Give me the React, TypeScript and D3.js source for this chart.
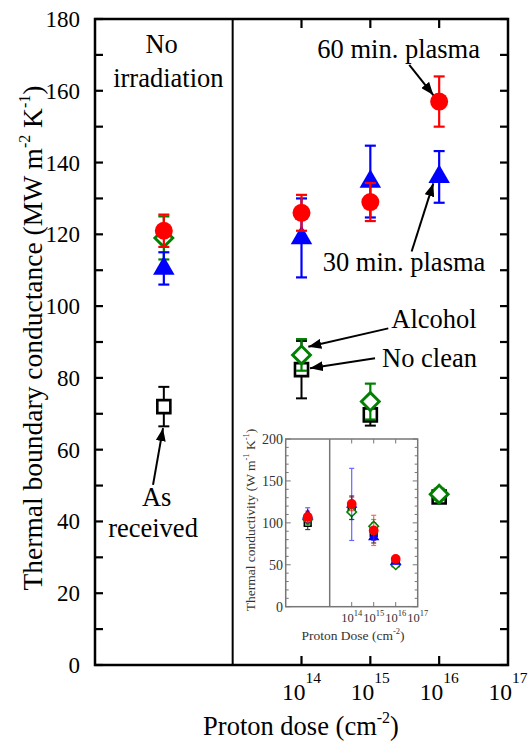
import * as d3 from 'd3';
import { useEffect, useRef } from 'react';

const W = 530;
const H = 744;
const FONT = '"Liberation Serif", "Times New Roman", serif';

// 1e12 stands for the un-irradiated group (left of the divider at 1e13)
const doses = [1e12, 1e14, 1e15, 1e16];
const doseTicks = [1e14, 1e15, 1e16, 1e17];
const doseExp = ['14', '15', '16', '17'];
const yTickLabels = [0, 20, 40, 60, 80, 100, 120, 140, 160, 180];
const insetYTicks = [0, 50, 100, 150, 200];

// main panel: thermal boundary conductance (MW m^-2 K^-1)
const noClean = [72, 82.3, 69.7, 46.8];
const noCleanErr = [5.5, 8, 3, 1.5];
const alcohol = [119, 86.4, 73.4, 47.6];
const alcoholErr = [6, 4.4, 5, 1.5];
const plasma30 = [110.5, 119, 134.7, 136];
const plasma30Err = [4.5, 11, 10, 7.2];
const plasma60 = [121, 126, 129, 157];
const plasma60Err = [4.5, 5, 5.3, 7];

// inset: thermal conductivity (W m^-1 K^-1)
const kNoClean = [100, 118, 88, 52];
const kNoCleanErr = [8, 14, 12, 3];
const kAlcohol = [104, 113, 96, 50];
const kAlcoholErr = [6, 9, 8, 3];
const k30 = [109, 122, 83, 54];
const k30Err = [9, 43, 4, 3];
const k60 = [107, 122.5, 91, 57];
const k60Err = [7, 8, 18, 3];

// annotations in data units: [log10 dose, value]
const labels = [
  { text: 'No', at: [11.968, 170.4] },
  { text: 'irradiation', at: [12.066, 161.0] },
  { text: '60 min. plasma', at: [15.411, 169.0] },
  { text: '30 min. plasma', at: [15.489, 109.9] },
  { text: 'Alcohol', at: [15.925, 93.8] },
  { text: 'No clean', at: [15.86, 83.1] },
  { text: 'As', at: [11.896, 44.3] },
  { text: 'received', at: [11.843, 35.7] },
];
const arrows = [
  { from: [15.566, 167.2], to: [15.915, 158.8] },
  { from: [15.6, 115.2], to: [15.915, 134.2] },
  { from: [15.261, 93.8], to: [14.099, 88.7] },
  { from: [15.068, 85.5], to: [14.123, 82.7] },
  { from: [11.843, 50.2], to: [11.988, 66.0] },
];

type Shape = 'square' | 'diamond' | 'triangle' | 'circle';

export default function App() {
  const svgRef = useRef<SVGSVGElement>(null);

  useEffect(() => {
    const svg = d3.select(svgRef.current);
    svg.selectAll('*').remove();

    const x = d3.scaleLog().domain([1e11, 1e17]).range([95, 508]);
    const y = d3.scaleLinear().domain([0, 180]).range([665, 19]);
    const xi = d3.scaleLog().domain([1e11, 1e17]).range([285.7, 417.7]);
    const yi = d3.scaleLinear().domain([0, 200]).range([606.7, 439]);

    svg.append('defs').append('marker')
      .attr('id', 'arrow')
      .attr('viewBox', '0 0 13 10')
      .attr('refX', 13).attr('refY', 5)
      .attr('markerWidth', 13).attr('markerHeight', 10)
      .attr('markerUnits', 'userSpaceOnUse')
      .attr('orient', 'auto')
      .append('path').attr('d', 'M0,0L13,5L0,10z').attr('fill', '#000');

    function shapePath(shape: Shape, area: number) {
      if (shape === 'circle') return d3.symbol(d3.symbolCircle, area)();
      if (shape === 'triangle') return d3.symbol(d3.symbolTriangle, area)();
      return d3.symbol(d3.symbolSquare, area)();
    }

    function drawSeries(g, xs, ys, vals, errs, color, shape: Shape, area, sw, capW, barOpacity) {
      vals.forEach((v, i) => {
        const cx = xs(doses[i]);
        const eg = g.append('g').attr('stroke', color).attr('stroke-width', sw).attr('opacity', barOpacity);
        eg.append('line').attr('x1', cx).attr('x2', cx).attr('y1', ys(v - errs[i])).attr('y2', ys(v + errs[i]));
        [v - errs[i], v + errs[i]].forEach((e) => {
          eg.append('line').attr('x1', cx - capW / 2).attr('x2', cx + capW / 2).attr('y1', ys(e)).attr('y2', ys(e));
        });
      });
      vals.forEach((v, i) => {
        const p = g.append('path')
          .attr('d', shapePath(shape, area))
          .attr('transform', `translate(${xs(doses[i])},${ys(v)})${shape === 'diamond' ? ' rotate(45)' : ''}`);
        if (shape === 'circle' || shape === 'triangle') p.attr('fill', color);
        else p.attr('fill', 'white').attr('stroke', color).attr('stroke-width', sw * 1.3);
      });
    }

    // ---------- main panel ----------
    const frame = svg.append('g').attr('stroke', '#000').attr('stroke-width', 2.5);
    frame.append('rect').attr('x', 95).attr('y', 19).attr('width', 413).attr('height', 646).attr('fill', 'none');
    frame.append('line').attr('x1', x(1e13)).attr('x2', x(1e13)).attr('y1', 19).attr('y2', 665).attr('stroke-width', 2);

    d3.range(0, 181, 10).forEach((t) => {
      frame.append('line').attr('x1', 95).attr('x2', 103).attr('y1', y(t)).attr('y2', y(t)).attr('stroke-width', 2.2);
      frame.append('line').attr('x1', 500).attr('x2', 508).attr('y1', y(t)).attr('y2', y(t)).attr('stroke-width', 2.2);
    });
    doseTicks.slice(0, 3).forEach((t) => {
      frame.append('line').attr('x1', x(t)).attr('x2', x(t)).attr('y1', 665).attr('y2', 656).attr('stroke-width', 2.2);
      frame.append('line').attr('x1', x(t)).attr('x2', x(t)).attr('y1', 19).attr('y2', 28).attr('stroke-width', 2.2);
    });

    const txt = svg.append('g').attr('font-family', FONT).attr('fill', '#000');
    yTickLabels.forEach((t) => {
      txt.append('text').attr('x', 80).attr('y', y(t)).attr('dy', '0.35em')
        .attr('text-anchor', 'end').attr('font-size', 23).text(t);
    });
    doseTicks.forEach((t, i) => {
      const tx = txt.append('text').attr('x', x(t)).attr('y', 700).attr('text-anchor', 'middle').attr('font-size', 23.5);
      tx.append('tspan').text('10');
      tx.append('tspan').attr('font-size', 15.5).attr('dy', -17).text(doseExp[i]);
    });

    const xl = txt.append('text').attr('x', 301).attr('y', 735).attr('text-anchor', 'middle').attr('font-size', 26.5);
    xl.append('tspan').text('Proton dose (cm');
    xl.append('tspan').attr('font-size', 16).attr('dy', -12).text('-2');
    xl.append('tspan').attr('dy', 12).text(')');

    const yl = txt.append('text').attr('transform', 'translate(42,338) rotate(-90)')
      .attr('text-anchor', 'middle').attr('font-size', 27.5);
    yl.append('tspan').text('Thermal boundary conductance (MW m');
    yl.append('tspan').attr('font-size', 16).attr('dy', -12).text('-2');
    yl.append('tspan').attr('dy', 12).text(' K');
    yl.append('tspan').attr('font-size', 16).attr('dy', -12).text('-1');
    yl.append('tspan').attr('dy', 12).text(')');

    const data = svg.append('g');
    drawSeries(data, x, y, noClean, noCleanErr, '#000', 'square', 170, 2, 11, 1);
    drawSeries(data, x, y, alcohol, alcoholErr, '#008000', 'diamond', 160, 2.2, 11, 1);
    drawSeries(data, x, y, plasma30, plasma30Err, '#0000ff', 'triangle', 200, 2.2, 11, 1);
    drawSeries(data, x, y, plasma60, plasma60Err, '#ff0000', 'circle', 254, 2.2, 11, 1);

    labels.forEach((l) => {
      txt.append('text').attr('x', x(10 ** l.at[0])).attr('y', y(l.at[1]))
        .attr('text-anchor', 'middle').attr('font-size', 26.5).text(l.text);
    });
    arrows.forEach((a) => {
      svg.append('line')
        .attr('x1', x(10 ** a.from[0])).attr('y1', y(a.from[1]))
        .attr('x2', x(10 ** a.to[0])).attr('y2', y(a.to[1]))
        .attr('stroke', '#000').attr('stroke-width', 2).attr('marker-end', 'url(#arrow)');
    });

    // ---------- inset ----------
    const inset = svg.append('g');
    const ifr = inset.append('g').attr('stroke', '#777').attr('stroke-width', 1.5);
    ifr.append('rect').attr('x', 285.7).attr('y', 439).attr('width', 132).attr('height', 167.7).attr('fill', 'none');
    ifr.append('line').attr('x1', xi(1e13)).attr('x2', xi(1e13)).attr('y1', 439).attr('y2', 606.7);
    d3.range(0, 201, 10).forEach((t) => {
      const len = t % 50 === 0 ? 5 : 3;
      ifr.append('line').attr('x1', 285.7).attr('x2', 285.7 + len).attr('y1', yi(t)).attr('y2', yi(t)).attr('stroke-width', 1);
      ifr.append('line').attr('x1', 417.7 - len).attr('x2', 417.7).attr('y1', yi(t)).attr('y2', yi(t)).attr('stroke-width', 1);
    });
    doseTicks.slice(0, 3).forEach((t) => {
      ifr.append('line').attr('x1', xi(t)).attr('x2', xi(t)).attr('y1', 606.7).attr('y2', 602).attr('stroke-width', 1);
      ifr.append('line').attr('x1', xi(t)).attr('x2', xi(t)).attr('y1', 439).attr('y2', 443.5).attr('stroke-width', 1);
    });

    const itxt = inset.append('g').attr('font-family', FONT).attr('fill', '#333');
    insetYTicks.forEach((t) => {
      itxt.append('text').attr('x', 283).attr('y', yi(t)).attr('dy', '0.35em')
        .attr('text-anchor', 'end').attr('font-size', 14).text(t);
    });
    doseTicks.forEach((t, i) => {
      const tx = itxt.append('text').attr('x', xi(t)).attr('y', 622).attr('text-anchor', 'middle').attr('font-size', 12.5);
      tx.append('tspan').text('10');
      tx.append('tspan').attr('font-size', 8.5).attr('dy', -6).text(doseExp[i]);
    });
    const ixl = itxt.append('text').attr('x', 353).attr('y', 640).attr('text-anchor', 'middle').attr('font-size', 13.5);
    ixl.append('tspan').text('Proton Dose (cm');
    ixl.append('tspan').attr('font-size', 8.5).attr('dy', -6).text('-2');
    ixl.append('tspan').attr('dy', 6).text(')');
    const iyl = itxt.append('text').attr('transform', 'translate(255,520) rotate(-90)')
      .attr('text-anchor', 'middle').attr('font-size', 13.5);
    iyl.append('tspan').text('Thermal conductivity (W m');
    iyl.append('tspan').attr('font-size', 8.5).attr('dy', -6).text('-1');
    iyl.append('tspan').attr('dy', 6).text(' K');
    iyl.append('tspan').attr('font-size', 8.5).attr('dy', -6).text('-1');
    iyl.append('tspan').attr('dy', 6).text(')');

    const idata = inset.append('g');
    drawSeries(idata, xi, yi, kNoClean, kNoCleanErr, '#000', 'square', 45, 1.2, 5, 0.75);
    drawSeries(idata, xi, yi, kAlcohol, kAlcoholErr, '#008000', 'diamond', 45, 1.2, 5, 0.6);
    drawSeries(idata, xi, yi, k30, k30Err, '#0000ff', 'triangle', 55, 1.2, 5, 0.6);
    drawSeries(idata, xi, yi, k60, k60Err, '#ff0000', 'circle', 75, 1.2, 5, 0.6);
  }, []);

  return (
    <div style={{ position: 'fixed', left: 0, top: 0, width: W, height: H, background: '#fff' }}>
      <svg ref={svgRef} width={W} height={H}></svg>
    </div>
  );
}
